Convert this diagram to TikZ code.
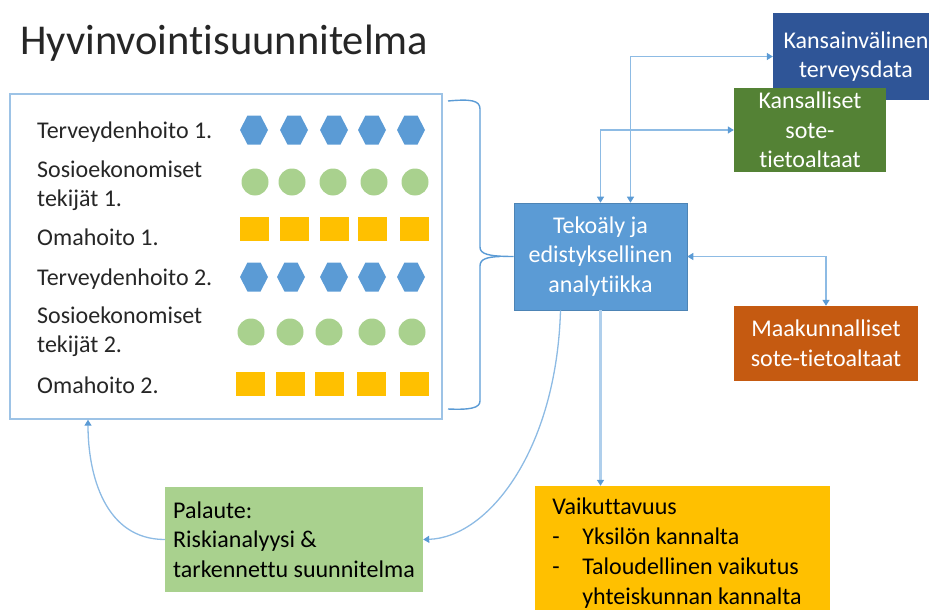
\documentclass[tikz,border=0pt]{standalone}
\usepackage{fontspec}
\setmainfont{Carlito}[Ligatures=NoCommon]
\usetikzlibrary{arrows.meta}

\definecolor{hexblue}{HTML}{5B9BD5}
\definecolor{dotgreen}{HTML}{A9D18E}
\definecolor{sqgold}{HTML}{FFC000}
\definecolor{navy}{HTML}{2F5597}
\definecolor{forest}{HTML}{548235}
\definecolor{rust}{HTML}{C55A11}
\definecolor{linkblue}{HTML}{8DBBE4}
\definecolor{tipblue}{HTML}{5B9BD5}
\definecolor{framebl}{HTML}{9DC3E6}
\definecolor{inktext}{HTML}{262626}

\begin{document}
\begin{tikzpicture}[x=1pt,y=-1pt,
  box/.style={rectangle, inner sep=0pt, align=center, text=white,
    font=\fontsize{24}{29.5}\selectfont},
  lbl/.style={anchor=base west, inner sep=0pt, text=inktext,
    font=\fontsize{24}{29}\selectfont},
  link/.style={draw=linkblue, line width=1.3pt},
  >={Triangle[length=6pt,width=7pt,color=tipblue]},
  brace/.style={draw=hexblue, line width=1.4pt},
  hexa/.pic={\fill[hexblue] (-14,0) -- (-6.5,-14.5) -- (6.5,-14.5) -- (14,0)
      -- (6.5,14.5) -- (-6.5,14.5) -- cycle;},
  dot/.pic={\fill[dotgreen] (0,0) circle[radius=13.5];},
  sq/.pic={\fill[sqgold] (-14.5,-12) rectangle (14.5,12);}
]
\useasboundingbox (0,0) rectangle (929,610);
\clip (0,0) rectangle (929,610);

% title
\node[anchor=base west, inner sep=0pt, text=inktext,
  font=\fontsize{42.5}{50}\selectfont] (title) at (20,55) {Hyvinvointisuunnitelma};

% plan panel
\node[draw=framebl, line width=1.4pt, minimum width=432pt, minimum height=325pt,
  inner sep=0pt] (panel) at (226,256.5) {};

\node[lbl] (t1) at (37,138) {Terveydenhoito 1.};
\node[lbl] (s1a) at (37,177) {Sosioekonomiset};
\node[lbl] (s1b) at (37,206) {tekijät 1.};
\node[lbl] (o1) at (37,245) {Omahoito 1.};
\node[lbl] (t2) at (37,285) {Terveydenhoito 2.};
\node[lbl] (s2a) at (37,323) {Sosioekonomiset};
\node[lbl] (s2b) at (37,352) {tekijät 2.};
\node[lbl] (o2) at (37,393) {Omahoito 2.};

\foreach \x in {254,294,334,372,411} \pic at (\x,130) {hexa};
\foreach \x in {255,292,333,374,415} \pic at (\x,182) {dot};
\foreach \x in {254,294,334,372,414} \pic at (\x,229) {sq};
\foreach \x in {254,291,334,372,411} \pic at (\x,277) {hexa};
\foreach \x in {251,290,329,372,412} \pic at (\x,332) {dot};
\foreach \x in {250,290,329,371,414} \pic at (\x,384) {sq};

% data sources and outcome boxes
\node[box, fill=navy, minimum width=166pt, minimum height=87pt] (intl) at (856,56.5)
  {Kansainvälinen\\terveysdata};
\node[box, fill=forest, minimum width=152pt, minimum height=84pt] (natl) at (810,130)
  {Kansalliset\\sote-\\tietoaltaat};
\node[box, fill=hexblue, draw=hexblue!85!black, line width=0.6pt,
  minimum width=173pt, minimum height=107pt] (ai) at (600.5,256.5)
  {Tekoäly ja\\edistyksellinen\\analytiikka};
\node[box, fill=rust, minimum width=184pt, minimum height=75pt] (reg) at (826,343.5)
  {Maakunnalliset\\sote-tietoaltaat};
\node[box, fill=dotgreen, text=black, align=left,
  minimum width=258pt, minimum height=105pt] (fb) at (294,539.5)
  {Palaute:\\Riskianalyysi \&\\tarkennettu suunnitelma};
\node[box, fill=sqgold, text=black, align=left,
  minimum width=295pt, minimum height=134pt, font=\fontsize{24}{30}\selectfont]
  (impact) at (682.5,553)
  {Vaikuttavuus\\
   \makebox[30pt][l]{-}Yksilön kannalta\\
   \makebox[30pt][l]{-}Taloudellinen vaikutus\\
   \hspace*{30pt}yhteiskunnan kannalta\hspace*{11pt}};

% brace gathering the plan rows
\draw[brace] (448,101) .. controls (470,99) and (480,100) .. (480,109)
  -- (480,247) .. controls (480,254) and (488,256.5) .. (ai.west);
\draw[brace] (500,256.5) .. controls (487,257) and (480,259) .. (480,266)
  -- (480,401) .. controls (480,408) and (470,410) .. (448,409);

% connectors
\draw[link,<->] (ai.north) |- (natl.west);
\draw[link,<->] ([xshift=30pt]ai.north) |- (intl.west);
\draw[link,<->] (ai.east) -| (reg.north);
\draw[link,line width=2.2pt,draw=linkblue!70,->] (ai.south) -- (ai.south |- impact.north);
\draw[link,->] ([xshift=-40pt]ai.south) .. controls +(-4,140) and +(65,-2) .. (fb.east);
\draw[link,->] (fb.west) .. controls +(-60,0) and +(0,55) .. ([xshift=-138pt]panel.south);
\end{tikzpicture}
\end{document}
